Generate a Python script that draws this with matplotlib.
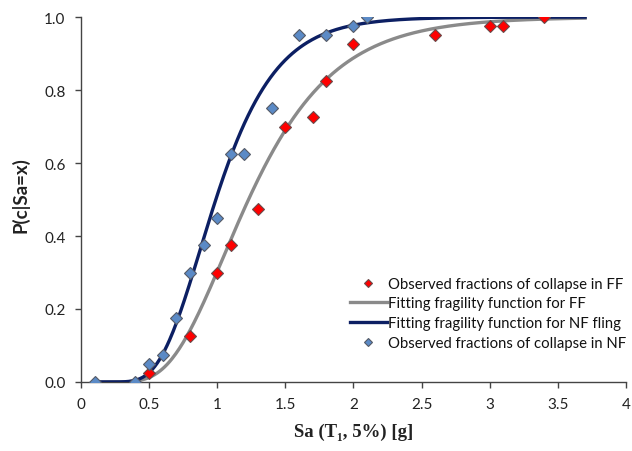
import math
import numpy as np
import matplotlib
matplotlib.use("Agg")
import matplotlib.pyplot as plt

# Observed fractions of collapse (far-field records)
ff_sa = [0.5, 0.8, 1.0, 1.1, 1.3, 1.5, 1.7, 1.8, 2.0, 2.6, 3.0, 3.1, 3.4]
ff_p = [0.025, 0.125, 0.3, 0.375, 0.475, 0.7, 0.725, 0.825, 0.925, 0.95, 0.975, 0.975, 1.0]

# Observed fractions of collapse (near-fault fling records)
nf_sa = [0.1, 0.4, 0.5, 0.6, 0.7, 0.8, 0.9, 1.0, 1.1, 1.2, 1.4, 1.6, 1.8, 2.0, 2.1]
nf_p = [0.0, 0.0, 0.05, 0.075, 0.175, 0.3, 0.375, 0.45, 0.625, 0.625, 0.75, 0.95, 0.95, 0.975, 1.0]

# Fitted lognormal fragility parameters (median Sa [g], dispersion)
ff_median, ff_beta = 1.23, 0.40
nf_median, nf_beta = 0.99, 0.35
curve_range = (0.1, 3.7)

x_ticks = [0, 0.5, 1, 1.5, 2, 2.5, 3, 3.5, 4]
x_tick_labels = ["0", "0.5", "1", "1.5", "2", "2.5", "3", "3.5", "4"]
y_ticks = [0.0, 0.2, 0.4, 0.6, 0.8, 1.0]
y_tick_labels = ["0.0", "0.2", "0.4", "0.6", "0.8", "1.0"]

labels = ["Observed fractions of collapse in FF",
          "Fitting fragility function for FF",
          "Fitting fragility function for NF fling",
          "Observed fractions of collapse in NF"]


def fragility(sa, median, beta):
    return np.array([0.5 * (1 + math.erf(math.log(s / median) / (beta * math.sqrt(2)))) for s in sa])


fig = plt.figure(figsize=(6.32, 4.52), dpi=100)
ax = fig.add_axes([0.128, 0.1527, 0.8625, 0.8073])

sa = np.linspace(curve_range[0], curve_range[1], 400)
ff_line, = ax.plot(sa, fragility(sa, ff_median, ff_beta), color="#8a8a8a", lw=2.4, zorder=2)
nf_line, = ax.plot(sa, fragility(sa, nf_median, nf_beta), color="#0c1f63", lw=2.4, zorder=3)
ff_pts, = ax.plot(ff_sa, ff_p, ls="none", marker="D", ms=6, mfc="#ff0000", mec="#6a4a4a", mew=0.8, zorder=4)
nf_pts, = ax.plot(nf_sa, nf_p, ls="none", marker="D", ms=6.5, mfc="#5b8ac6", mec="#555a66", mew=0.8, zorder=5)

ax.set_xlim(0, 4)
ax.set_ylim(0, 1.0)
ax.set_xticks(x_ticks)
ax.set_xticklabels(x_tick_labels)
ax.set_yticks(y_ticks)
ax.set_yticklabels(y_tick_labels)

for s in ["top", "right"]:
    ax.spines[s].set_visible(False)
for s in ["left", "bottom"]:
    ax.spines[s].set_color("#444444")
    ax.spines[s].set_linewidth(1.0)

ax.tick_params(direction="out", length=4, width=1, color="#444444",
               labelsize=11, labelcolor="#222222", pad=7)
for lab in ax.get_xticklabels() + ax.get_yticklabels():
    lab.set_family("Lato")

ax.set_xlabel("Sa (T\u2081, 5%) [g]", family="Liberation Serif", fontweight="bold",
              fontsize=13.5, labelpad=8, color="#222222")
ax.set_ylabel("P(c|Sa=x)", family="Lato", fontweight="bold", fontsize=13.5,
              color="#222222")
ax.yaxis.set_label_coords(-0.095, 0.515)

leg = ax.legend([ff_pts, ff_line, nf_line, nf_pts], labels,
                loc="lower right", bbox_to_anchor=(1.012, 0.072), frameon=False,
                prop={"family": "Lato", "size": 10.7}, handlelength=2.5,
                handletextpad=0.1, labelspacing=0.38, borderaxespad=0.0,
                markerscale=0.7)
for t in leg.get_texts():
    t.set_color("#111111")

fig.savefig("out.png", dpi=100, facecolor="white")
